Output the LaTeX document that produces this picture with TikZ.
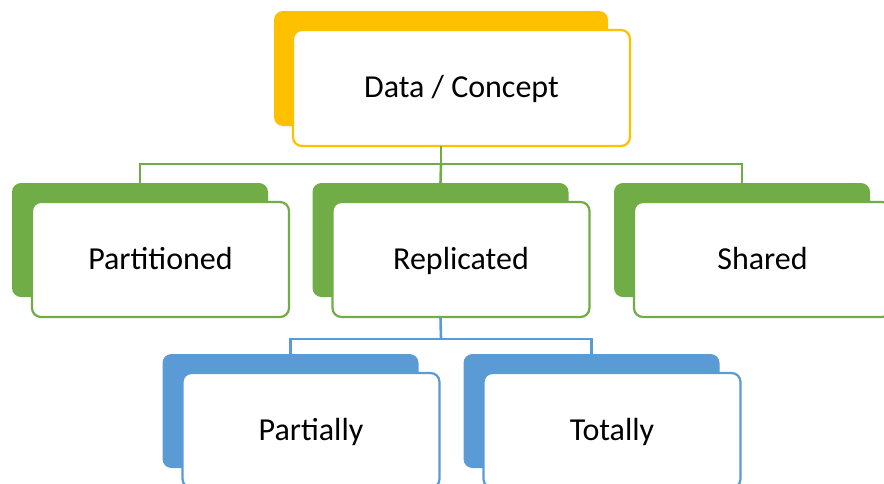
\documentclass[tikz,border=0pt]{standalone}
\usepackage{fontspec}
\setmainfont{Carlito}
\definecolor{cyel}{HTML}{FFC000}
\definecolor{cgrn}{HTML}{70AD47}
\definecolor{cblu}{HTML}{5B9BD5}
\begin{document}
\begin{tikzpicture}[x=1pt,y=-1pt,
  backbox/.style={fill=#1, draw=none, rounded corners=9pt, inner sep=0pt, outer sep=0pt,
    minimum width=256pt, minimum height=114pt},
  frontbox/.style={fill=white, draw=#1, line width=2.2pt, rounded corners=9pt, inner sep=0pt,
    outer sep=0pt, minimum width=257pt, minimum height=115pt,
    text height=22pt, text depth=3pt,
    font=\fontsize{32}{38}\selectfont},
  link/.style={draw=#1, line width=2.6pt}]
  \fill[white] (0,0) rectangle (884,483);
  \clip (0,0) rectangle (884,483);

  % back (coloured) plates
  \node[backbox=cyel, minimum width=334pt, minimum height=115pt] (topb) at (441,68.5) {};
  \node[backbox=cgrn] (partb) at (140,240) {};
  \node[backbox=cgrn] (repb)  at (440.5,240) {};
  \node[backbox=cgrn] (shab)  at (742,240) {};
  \node[backbox=cblu] (palb)  at (290.5,411) {};
  \node[backbox=cblu] (totb)  at (591.5,411) {};

  % connectors
  \coordinate (bus1) at (441,164);
  \coordinate (bus2) at (441,339);
  \draw[link=cgrn] (partb.north) |- (bus1) -| (shab.north);
  \draw[link=cgrn] (bus1) -- (repb.north);
  \draw[link=cblu] (palb.north) |- (bus2) -| (totb.north);

  % front (white) boxes with labels
  \node[frontbox=cyel, minimum width=337pt, minimum height=116pt] (top) at (461.5,88) {Data / Concept};
  \node[frontbox=cgrn] (part) at (160.5,259.5) {Partitioned};
  \node[frontbox=cgrn] (rep)  at (461,259.5) {Replicated};
  \node[frontbox=cgrn] (sha)  at (762.5,259.5) {Shared};
  \node[frontbox=cblu] (pal)  at (311,430.5) {Partially};
  \node[frontbox=cblu] (tot)  at (612,430.5) {Totally};

  \draw[link=cgrn] (topb.center |- top.south) -- (bus1);
  \draw[link=cblu] (repb.center |- rep.south) -- (bus2);
\end{tikzpicture}
\end{document}
